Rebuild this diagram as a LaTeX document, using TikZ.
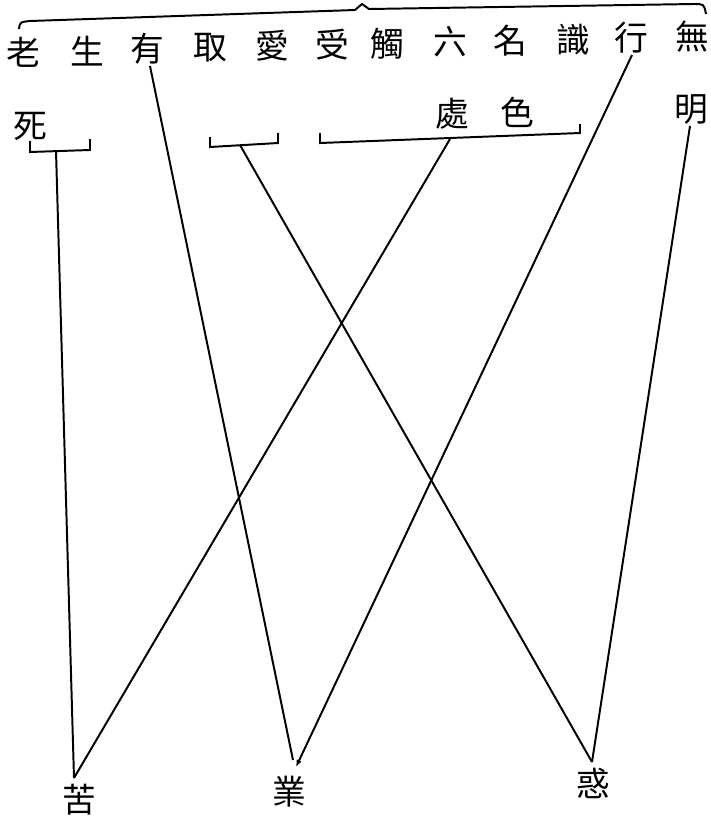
\documentclass[tikz,border=0pt]{standalone}
\usepackage{fontspec}
\newfontfamily\cjk{Noto Sans CJK TC}
\usetikzlibrary{arrows.meta}
\begin{document}
\begin{tikzpicture}[x=0.025cm,y=-0.025cm,
  zi/.style={font=\cjk\fontsize{24}{24}\selectfont,inner sep=0pt},
  xian/.style={line width=1.4pt}]
\useasboundingbox (0,0) rectangle (711,818);
% 上排十二支
\node[zi] (lao) at (23,52) {老};
\node[zi] (sheng) at (87,51) {生};
\node[zi] (you) at (147,49) {有};
\node[zi] (qu) at (210,48) {取};
\node[zi] (ai) at (272,46) {愛};
\node[zi] (shou) at (332,45) {受};
\node[zi] (chu) at (387,44) {觸};
\node[zi] (liu) at (450,42) {六};
\node[zi] (ming) at (510,41) {名};
\node[zi] (shi) at (573,40) {識};
\node[zi] (xing) at (631,38) {行};
\node[zi] (wu) at (692,37) {無};
% 第二排
\node[zi] (si) at (30,126) {死};
\node[zi] (chuzi) at (452,114) {處};
\node[zi] (se) at (517,112) {色};
\node[zi] (mingb) at (691,110) {明};
% 下排
\node[zi] (ku) at (79,800) {苦};
\node[zi] (ye) at (289,792) {業};
\node[zi] (huo) at (593,783) {惑};
% 大括號
\draw[xian] (19,29) .. controls (20,22) .. (30,21) -- (355,10) -- (362,4) -- (369,9)
  -- (694,4) .. controls (704,4) .. (706,14);
% 小括號
\draw[xian] (30,141) -- (30,152) -- (90,150) -- (90,139);
\draw[xian] (210,137) -- (210,147) -- (278,143) -- (278,133);
\draw[xian] (320,133) -- (320,143) -- (580,133) -- (580,124);
\coordinate (k1) at (56,151);
\coordinate (k2) at (240,145);
\coordinate (k3) at (450,139);
\coordinate (youd) at (150,66);
\coordinate (xingd) at (632,55);
\coordinate (mingd) at (690,126);
\coordinate (kuu) at (74,778);
\coordinate (yeu) at (293,760);
\coordinate (yeu2) at (296,767);
\coordinate (huou) at (592,762);
% 連線
\draw[xian] (k1) -- (kuu);
\draw[xian] (k3) -- (kuu);
\draw[xian] (youd) -- (yeu);
\draw[xian,-{Latex[length=5pt,width=4pt]}] (xingd) -- (yeu2);
\draw[xian] (k2) -- (huou);
\draw[xian] (mingd) -- (huou);
\end{tikzpicture}
\end{document}
